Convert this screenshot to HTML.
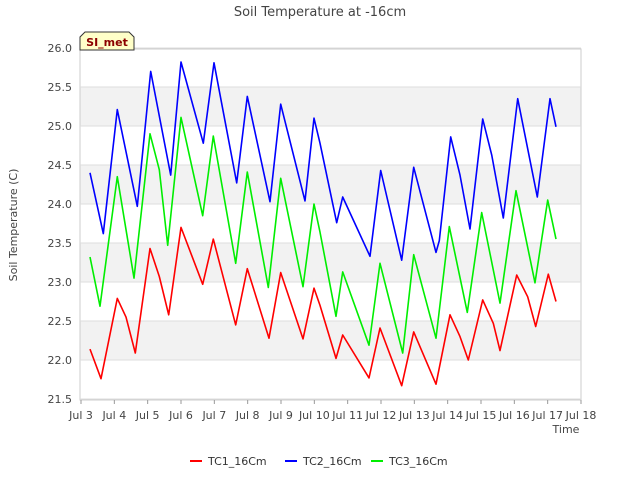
<!DOCTYPE html>
<html><head><meta charset="utf-8"><style>
body{margin:0;background:#fff;font-family:"Liberation Sans","DejaVu Sans",sans-serif}
text{font-family:"DejaVu Sans","Liberation Sans",sans-serif}
</style></head><body>
<svg id="chart" width="640" height="480" viewBox="0 0 640 480">
<rect width="640" height="480" fill="#fff"/>
<text x="320" y="16" text-anchor="middle" font-size="13" fill="#444">Soil Temperature at -16cm</text>
<g id="bands"></g>
<rect x="80" y="49" width="501" height="351" fill="none" stroke="#ccc"/>
<g id="yticks"></g><g id="xticks"></g>
<text transform="translate(17,225) rotate(-90)" text-anchor="middle" font-size="11" fill="#444">Soil Temperature (C)</text>
<text x="566" y="433" text-anchor="middle" font-size="11" fill="#444">Time</text>
<g id="series"></g>
<g>
<path d="M80,50 L80,37 L85,32 L129,32 L134,37 L134,50 Z" fill="#ffffc8" stroke="#333"/>
<text x="107" y="46" text-anchor="middle" font-size="11" font-weight="bold" fill="#8b0000">SI_met</text>
</g>
<g id="legend"></g>
</svg>
<script>
const yTicks=[21.5,22.0,22.5,23.0,23.5,24.0,24.5,25.0,25.5,26.0];
const xTickDays=[3,4,5,6,7,8,9,10,11,12,13,14,15,16,17,18];
const xTickLabels=["Jul 3","Jul 4","Jul 5","Jul 6","Jul 7","Jul 8","Jul 9","Jul 10","Jul 11","Jul 12","Jul 13","Jul 14","Jul 15","Jul 16","Jul 17","Jul 18"];
const seriesNames=["TC1_16Cm","TC2_16Cm","TC3_16Cm"];
const seriesColors=["#ff0000","#0000ff","#00ee00"];
const tc1Days=[3.27,3.6,4.09,4.35,4.63,5.07,5.35,5.63,6.0,6.65,6.97,7.64,7.99,8.64,8.99,9.66,9.99,10.17,10.65,10.85,11.64,11.97,12.62,12.98,13.65,14.07,14.37,14.62,15.05,15.37,15.57,16.07,16.4,16.64,17.02,17.25];
const tc1Vals=[22.14,21.76,22.79,22.55,22.09,23.43,23.07,22.58,23.70,22.97,23.55,22.45,23.17,22.28,23.12,22.27,22.92,22.70,22.02,22.32,21.77,22.41,21.67,22.36,21.69,22.58,22.30,22.00,22.77,22.47,22.12,23.09,22.81,22.43,23.10,22.75];
const tc2Days=[3.27,3.67,4.09,4.69,5.09,5.69,6.0,6.67,6.99,7.67,7.99,8.67,8.99,9.72,9.99,10.17,10.67,10.85,11.67,11.99,12.62,12.98,13.65,13.75,14.09,14.37,14.67,15.05,15.32,15.67,16.1,16.47,16.69,17.07,17.25];
const tc2Vals=[24.40,23.62,25.21,23.97,25.70,24.37,25.82,24.78,25.81,24.27,25.38,24.03,25.28,24.04,25.10,24.78,23.76,24.09,23.33,24.43,23.28,24.47,23.38,23.53,24.86,24.37,23.68,25.09,24.63,23.82,25.35,24.56,24.09,25.35,24.99];
const tc3Days=[3.27,3.57,4.09,4.59,5.07,5.35,5.6,6.0,6.65,6.97,7.64,7.99,8.62,8.99,9.66,9.99,10.17,10.65,10.85,11.64,11.97,12.65,12.98,13.65,14.05,14.59,15.02,15.57,16.05,16.62,17.0,17.25];
const tc3Vals=[23.32,22.69,24.35,23.05,24.90,24.44,23.47,25.11,23.85,24.87,23.24,24.41,22.93,24.33,22.94,24.00,23.64,22.56,23.13,22.19,23.24,22.09,23.35,22.28,23.71,22.61,23.89,22.73,24.17,22.99,24.05,23.55];
const NS="http://www.w3.org/2000/svg";
const X0=81,X1=581,Y0=399,Y1=48;
function xs(d){return X0+(d-3)/15*(X1-X0);}
function ys(v){return Y0-(v-21.5)/4.5*(Y0-Y1);}
function mk(tag,attrs,parent){const e=document.createElementNS(NS,tag);for(const k in attrs)e.setAttribute(k,attrs[k]);parent.appendChild(e);return e;}
const bands=document.getElementById('bands');
for(let b=22;b<26;b+=1){
 const r=mk('rect',{x:80,y:ys(b+0.5),width:501,height:ys(b)-ys(b+0.5),fill:'#f2f2f2'},bands);
 
 
}
const yt=document.getElementById('yticks');
yTicks.forEach(v=>{
 const l=mk('line',{x1:80,x2:581,y1:ys(v),y2:ys(v),stroke:'#ddd'},yt);
 
 
 const t=mk('text',{x:72,y:ys(v)+4,'text-anchor':'end','font-size':11,fill:'#444'},yt);
 t.textContent=v.toFixed(1);
 
 
});
const xt=document.getElementById('xticks');
xTickDays.forEach((d,i)=>{
 const l=mk('line',{x1:xs(d),x2:xs(d),y1:400,y2:404,stroke:'#999'},xt);
 
 
 const t=mk('text',{x:xs(d),y:419,'text-anchor':'middle','font-size':11,fill:'#444'},xt);
 t.textContent=xTickLabels[i];
 
 
});
const sg=document.getElementById('series');
[[tc1Days,tc1Vals],[tc2Days,tc2Vals],[tc3Days,tc3Vals]].forEach((s,i)=>{
 const pts=s[0].map((d,j)=>xs(d).toFixed(1)+','+ys(s[1][j]).toFixed(1)).join(' ');
 const p=mk('polyline',{points:pts,fill:'none',stroke:seriesColors[i],'stroke-width':1.6,'stroke-linejoin':'round'},sg);
 
 
});
const lg=document.getElementById('legend');
const lx=[190,285,371];
seriesNames.forEach((n,i)=>{
 const g=mk('g',{},lg);
 
 
 mk('line',{x1:lx[i],x2:lx[i]+12,y1:461,y2:461,stroke:seriesColors[i],'stroke-width':2},g);
 const t=mk('text',{x:lx[i]+18,y:465,'font-size':11,fill:'#333'},g);
 t.textContent=n;
});
</script>
</body></html>
